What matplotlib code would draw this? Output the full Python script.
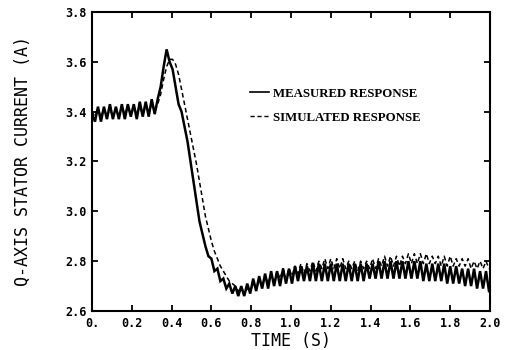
import numpy as np
import matplotlib
matplotlib.use("Agg")
import matplotlib.pyplot as plt
from matplotlib.lines import Line2D

dt = 0.015

measured = [
    3.39, 3.36, 3.42, 3.36, 3.42, 3.37, 3.43, 3.37, 3.42, 3.37,
    3.43, 3.37, 3.43, 3.38, 3.43, 3.37, 3.44, 3.38, 3.44, 3.38,
    3.45, 3.39, 3.45, 3.50, 3.58, 3.65, 3.60, 3.57, 3.50, 3.43,
    3.40, 3.34, 3.28, 3.20, 3.12, 3.04, 2.96, 2.91, 2.86, 2.82,
    2.81, 2.76, 2.77, 2.72, 2.73, 2.69, 2.71, 2.67, 2.70, 2.66,
    2.70, 2.66, 2.71, 2.67, 2.73, 2.68, 2.74, 2.69, 2.75, 2.69,
    2.76, 2.70, 2.76, 2.70, 2.77, 2.71, 2.77, 2.71, 2.78, 2.72,
    2.78, 2.72, 2.78, 2.72, 2.79, 2.72, 2.79, 2.72, 2.79, 2.72,
    2.79, 2.72, 2.79, 2.72, 2.79, 2.72, 2.79, 2.72, 2.79, 2.72,
    2.79, 2.72, 2.79, 2.73, 2.79, 2.73, 2.80, 2.73, 2.80, 2.73,
    2.80, 2.73, 2.80, 2.73, 2.80, 2.73, 2.80, 2.73, 2.80, 2.73,
    2.80, 2.72, 2.79, 2.72, 2.79, 2.72, 2.79, 2.72, 2.79, 2.71,
    2.78, 2.71, 2.78, 2.71, 2.77, 2.70, 2.77, 2.70, 2.77, 2.69,
    2.76, 2.69, 2.76, 2.68,
]

simulated = [
    3.40, 3.38, 3.41, 3.38, 3.41, 3.38, 3.41, 3.38, 3.41, 3.38,
    3.42, 3.39, 3.42, 3.39, 3.42, 3.39, 3.42, 3.39, 3.42, 3.40,
    3.43, 3.40, 3.43, 3.47, 3.53, 3.58, 3.61, 3.61, 3.59, 3.55,
    3.49, 3.43, 3.37, 3.31, 3.25, 3.19, 3.12, 3.05, 2.98, 2.93,
    2.88, 2.84, 2.81, 2.78, 2.76, 2.74, 2.72, 2.71, 2.70, 2.68,
    2.69, 2.67, 2.69, 2.68, 2.71, 2.69, 2.72, 2.70, 2.74, 2.71,
    2.75, 2.72, 2.76, 2.73, 2.77, 2.73, 2.77, 2.74, 2.78, 2.75,
    2.79, 2.75, 2.79, 2.76, 2.80, 2.76, 2.80, 2.77, 2.81, 2.77,
    2.81, 2.77, 2.81, 2.77, 2.81, 2.77, 2.80, 2.77, 2.80, 2.76,
    2.80, 2.77, 2.80, 2.77, 2.81, 2.77, 2.81, 2.78, 2.82, 2.78,
    2.82, 2.78, 2.82, 2.78, 2.82, 2.79, 2.83, 2.79, 2.83, 2.79,
    2.83, 2.79, 2.83, 2.79, 2.82, 2.79, 2.82, 2.78, 2.82, 2.78,
    2.82, 2.78, 2.81, 2.78, 2.81, 2.78, 2.81, 2.77, 2.80, 2.77,
    2.80, 2.77, 2.80, 2.77,
]

x_ticks = [0.0, 0.2, 0.4, 0.6, 0.8, 1.0, 1.2, 1.4, 1.6, 1.8, 2.0]
x_labels = ["0.", "0.2", "0.4", "0.6", "0.8", "1.0", "1.2", "1.4", "1.6", "1.8", "2.0"]
y_ticks = [2.6, 2.8, 3.0, 3.2, 3.4, 3.6, 3.8]
y_labels = ["2.6", "2.8", "3.0", "3.2", "3.4", "3.6", "3.8"]

t_meas = np.arange(len(measured)) * dt
t_sim = np.arange(len(simulated)) * dt

fig = plt.figure(figsize=(5.07, 3.50), dpi=100)
ax = fig.add_axes([92/507, 39/350, 398/507, 299/350])

ax.plot(t_meas, measured, color="black", lw=1.8, solid_joinstyle="miter")
ax.plot(t_sim, simulated, color="black", lw=1.1, ls=(0, (3, 2)))

ax.set_xlim(0, 2.0)
ax.set_ylim(2.6, 3.8)
ax.set_xticks(x_ticks)
ax.set_xticklabels(x_labels)
ax.set_yticks(y_ticks)
ax.set_yticklabels(y_labels)

for lab in ax.get_xticklabels() + ax.get_yticklabels():
    lab.set_fontfamily("DejaVu Sans Mono")
    lab.set_fontweight("bold")
    lab.set_fontsize(8.5)

ax.tick_params(direction="in", length=4, width=1.3, top=True, right=True,
               pad=4, colors="black")
for s in ax.spines.values():
    s.set_linewidth(1.5)

ax.set_xlabel("TIME (S)", family="DejaVu Sans Mono", fontsize=12, labelpad=2)
ax.set_ylabel("Q-AXIS STATOR CURRENT (A)", family="DejaVu Sans Mono", fontsize=12, labelpad=24)

handles = [Line2D([], [], color="black", lw=1.2),
           Line2D([], [], color="black", lw=1.0, ls=(0, (3, 2)))]
leg = ax.legend(handles, ["MEASURED RESPONSE", "SIMULATED RESPONSE"],
                loc="upper left", bbox_to_anchor=(0.367, 0.785), frameon=False,
                handlelength=1.5, handletextpad=0.3, labelspacing=0.9,
                prop=dict(family="Liberation Serif", weight="bold", size=9.3))

fig.savefig("out.png", dpi=100)
